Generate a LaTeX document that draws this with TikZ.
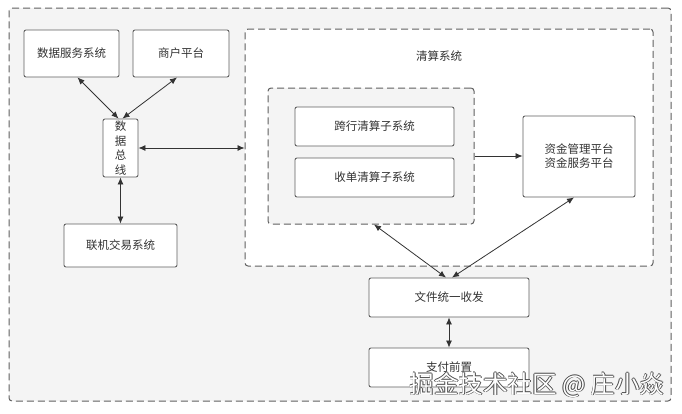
\documentclass[tikz,border=0pt]{standalone}
\usepackage{fontspec}
\setmainfont{Noto Sans CJK SC}
\usetikzlibrary{arrows.meta,positioning}

\definecolor{linegray}{HTML}{606060}
\definecolor{textgray}{HTML}{333333}
\definecolor{panelgray}{HTML}{F4F4F4}

\tikzset{
	sysbox/.style={draw=linegray, fill=white, rounded corners=2pt, line width=0.9pt,
		text=textgray, font=\fontsize{11.5}{14}\selectfont, inner sep=0pt, align=center},
	groupbox/.style={draw=linegray, rounded corners=3pt, line width=1pt,
		dash pattern=on 7pt off 4pt, inner sep=0pt},
	link/.style={draw=textgray, line width=0.8pt, {Latex[length=7pt,width=6pt]}-{Latex[length=7pt,width=6pt]}},
	onelink/.style={draw=textgray, line width=0.8pt, -{Latex[length=7pt,width=6pt]}},
}

\begin{document}
\begin{tikzpicture}[x=1pt, y=-1pt]

	% ---- frame

	\useasboundingbox (0,0) rectangle (682,413);

	\node[groupbox, fill=panelgray, minimum width=662pt, minimum height=393pt] (outer) at (340,204.5) {};

	% ---- clearing group

	\node[groupbox, fill=white, minimum width=408pt, minimum height=237pt] (clear) at (449,147.5) {};
	\node[text=textgray, font=\fontsize{11.5}{14}\selectfont] (clearlabel) at (439,56) {清算系统};

	\node[groupbox, fill=panelgray, minimum width=206pt, minimum height=136pt] (inner) at (371,156) {};

	\node[sysbox, minimum width=159pt, minimum height=39pt] (cross) at (374.5,126.5) {跨行清算子系统};
	\node[sysbox, minimum width=159pt, minimum height=39pt] (acq) at (374.5,177.5) {收单清算子系统};
	\node[sysbox, minimum width=112pt, minimum height=81pt] (fund) at (579,156.5) {资金管理平台\\资金服务平台};

	% ---- left side

	\node[sysbox, minimum width=95pt, minimum height=47pt] (data) at (71.5,53.5) {数据服务系统};
	\node[sysbox, minimum width=96pt, minimum height=47pt] (merchant) at (181,53.5) {商户平台};
	\node[sysbox, minimum width=35pt, minimum height=58pt, font=\fontsize{11.5}{14.5}\selectfont] (bus) at (120.5,148) {数\\据\\总\\线};
	\node[sysbox, minimum width=113pt, minimum height=43pt] (trade) at (120.5,245.5) {联机交易系统};

	% ---- bottom

	\node[sysbox, minimum width=160pt, minimum height=39pt] (file) at (449,297.5) {文件统一收发};
	\node[sysbox, minimum width=160pt, minimum height=39pt] (pay) at (449,367.5) {支付前置};

	% ---- connectors

	\draw[link] ([xshift=6pt]data.south) -- ([xshift=-2pt]bus.north);
	\draw[link] ([xshift=-4pt]merchant.south) -- ([xshift=2pt]bus.north);
	\draw[link] (bus.east) -- (bus.east -| clear.west);
	\draw[link] (bus.south) -- (trade.north);
	\draw[onelink] (inner.east) -- (inner.east -| fund.west);
	\draw[link] ([xshift=-3pt]file.north) -- ([xshift=3pt]inner.south);
	\draw[link] ([xshift=3pt]file.north) -- ([xshift=-5pt]fund.south);
	\draw[link] (file.south) -- (pay.north);

	% ---- watermark

	\foreach \dx/\dy in {-0.7/0,0.7/0,0/-0.7,0/0.7} {
		\node[text=black!70, font=\fontsize{24.5}{27}\selectfont, anchor=east] at ([xshift=\dx pt, yshift=\dy pt]668,385) {掘金技术社区 @ 庄小焱};
	}
	\node[text=white, font=\fontsize{24.5}{27}\selectfont, anchor=east] (mark) at (668,385) {掘金技术社区 @ 庄小焱};

\end{tikzpicture}
\end{document}
